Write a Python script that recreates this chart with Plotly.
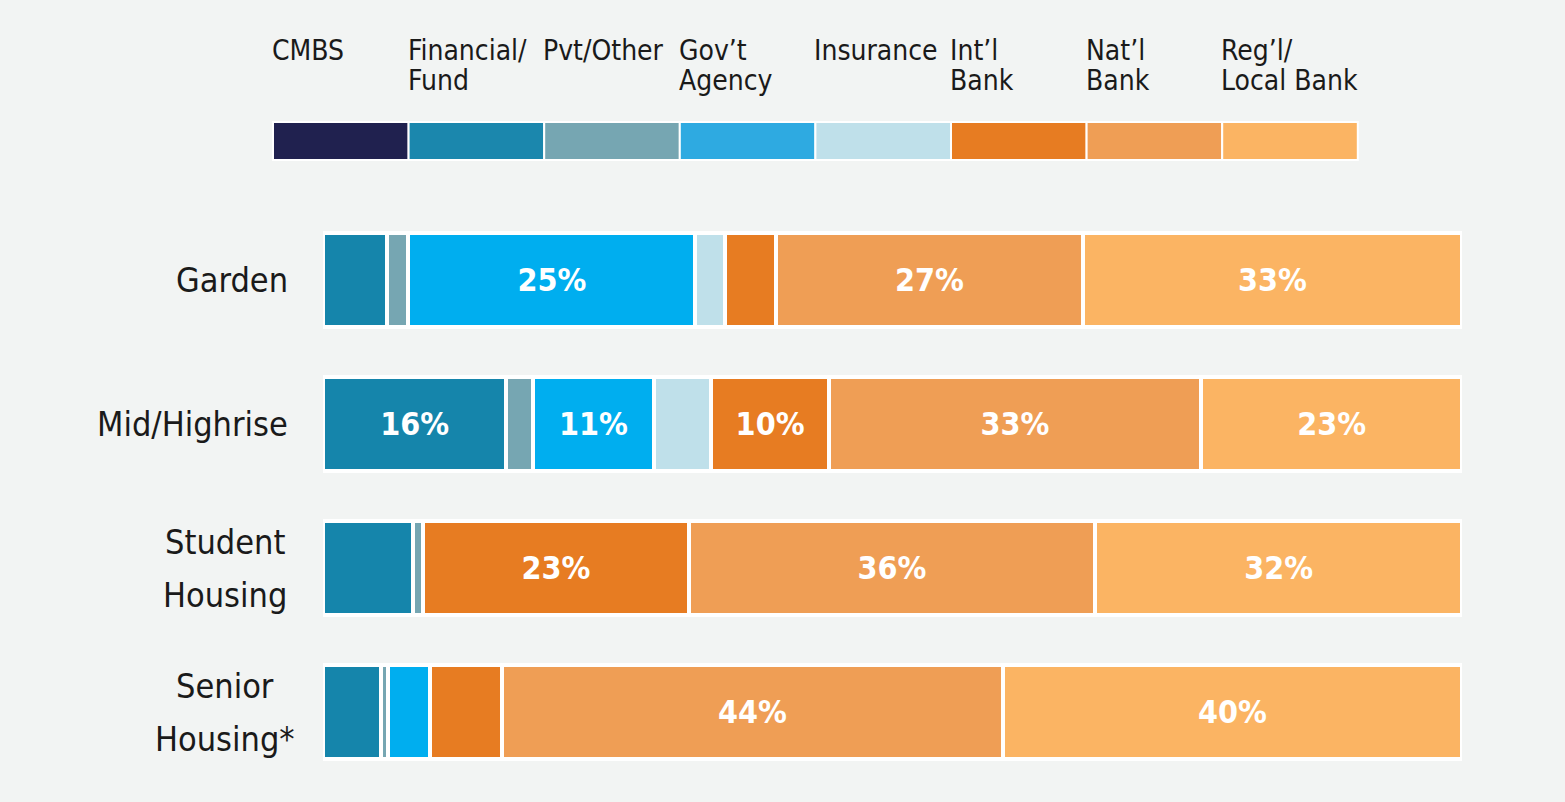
import plotly.graph_objects as go

W, H = 1565, 802

categories = ["Garden", "Mid/Highrise", "Student Housing", "Senior Housing*"]
category_labels = ["Garden", "Mid/Highrise", "Student\nHousing", "Senior\nHousing*"]

series_names = ["CMBS", "Financial/Fund", "Pvt/Other", "Gov't Agency", "Insurance",
                "Int'l Bank", "Nat'l Bank", "Reg'l/Local Bank"]
legend_labels = ["CMBS", "Financial/\nFund", "Pvt/Other", "Gov\u2019t\nAgency", "Insurance",
                 "Int\u2019l\nBank", "Nat\u2019l\nBank", "Reg\u2019l/\nLocal Bank"]

cmbs = [0, 0, 0, 0]
financial = [5.6, 16.1, 7.9, 5.1]
pvt_other = [1.9, 2.3, 0.9, 0.6]
gov_agency = [25.2, 10.7, 0, 3.7]
insurance = [2.6, 5.0, 0, 0]
intl_bank = [4.5, 10.3, 23.3, 6.3]
natl_bank = [26.9, 32.7, 35.7, 44.0]
regl_bank = [33.3, 22.9, 32.2, 40.3]

series_values = [cmbs, financial, pvt_other, gov_agency, insurance, intl_bank, natl_bank, regl_bank]

bar_colors = ["#20214f", "#1585ab", "#76a6b2", "#00aeef", "#bfe0ea", "#e77c22", "#ef9e55", "#fbb463"]
legend_colors = ["#20214f", "#1b87ad", "#76a6b2", "#2eaae1", "#bfe0ea", "#e77c22", "#ef9e55", "#fbb463"]

FONT = "Liberation Sans Narrow, Arial Narrow, DejaVu Sans Condensed, sans-serif"
BG = "#f2f4f3"

fig = go.Figure()
for name, vals, col in zip(series_names, series_values, bar_colors):
    fig.add_trace(go.Bar(
        name=name, y=categories, x=vals, orientation="h",
        marker=dict(color=col, line=dict(color="white", width=4)),
        text=[f"<b>{v:.0f}%</b>" if v >= 9.5 else "" for v in vals],
        textposition="inside", insidetextanchor="middle", textangle=0,
        textfont=dict(color="white", size=32, family=FONT),
        showlegend=False, hoverinfo="skip",
    ))

def px_x(p):
    return p / W

def px_y(p):
    return 1 - p / H

fig.update_layout(
    barmode="stack",
    bargap=0.354,
    width=W, height=H,
    margin=dict(l=0, r=0, t=0, b=0),
    paper_bgcolor=BG, plot_bgcolor=BG,
    xaxis=dict(domain=[px_x(323), px_x(1462)], range=[0, 100], visible=False, fixedrange=True),
    yaxis=dict(domain=[px_y(784), px_y(208)], autorange="reversed", visible=False,
               categoryorder="array", categoryarray=categories, fixedrange=True),
)

# y category labels (single lines right-aligned, two-line labels centred in their block)
for cat, lab in zip(categories, category_labels):
    lines = lab.split("\n")
    n = len(lines)
    for j, line in enumerate(lines):
        fig.add_annotation(x=px_x(290) if n == 1 else px_x(225), xref="paper",
                           y=cat, yref="y", text=line,
                           xanchor="right" if n == 1 else "center", yanchor="middle",
                           showarrow=False, yshift=(-(j - (n - 1) / 2) * 53),
                           font=dict(size=34, color="#1a1a1a", family=FONT))

# legend: colored boxes with labels above
box_left, box_w = 273, 135.6
for i, (lab, col) in enumerate(zip(legend_labels, legend_colors)):
    x0 = box_left + i * box_w
    fig.add_shape(type="rect", xref="paper", yref="paper",
                  x0=px_x(x0), x1=px_x(x0 + box_w), y0=px_y(160), y1=px_y(122),
                  fillcolor=col, line=dict(color="white", width=2))
    for j, line in enumerate(lab.split("\n")):
        fig.add_annotation(x=px_x(x0 - 3), xref="paper", y=px_y(51 + 30 * j), yref="paper",
                           text=line, xanchor="left", yanchor="middle", showarrow=False,
                           font=dict(size=28, color="#1a1a1a", family=FONT))

fig.write_html("out.html", config={"displayModeBar": False, "staticPlot": True},
               post_script="document.body.style.margin='0';document.body.style.overflow='hidden';")
